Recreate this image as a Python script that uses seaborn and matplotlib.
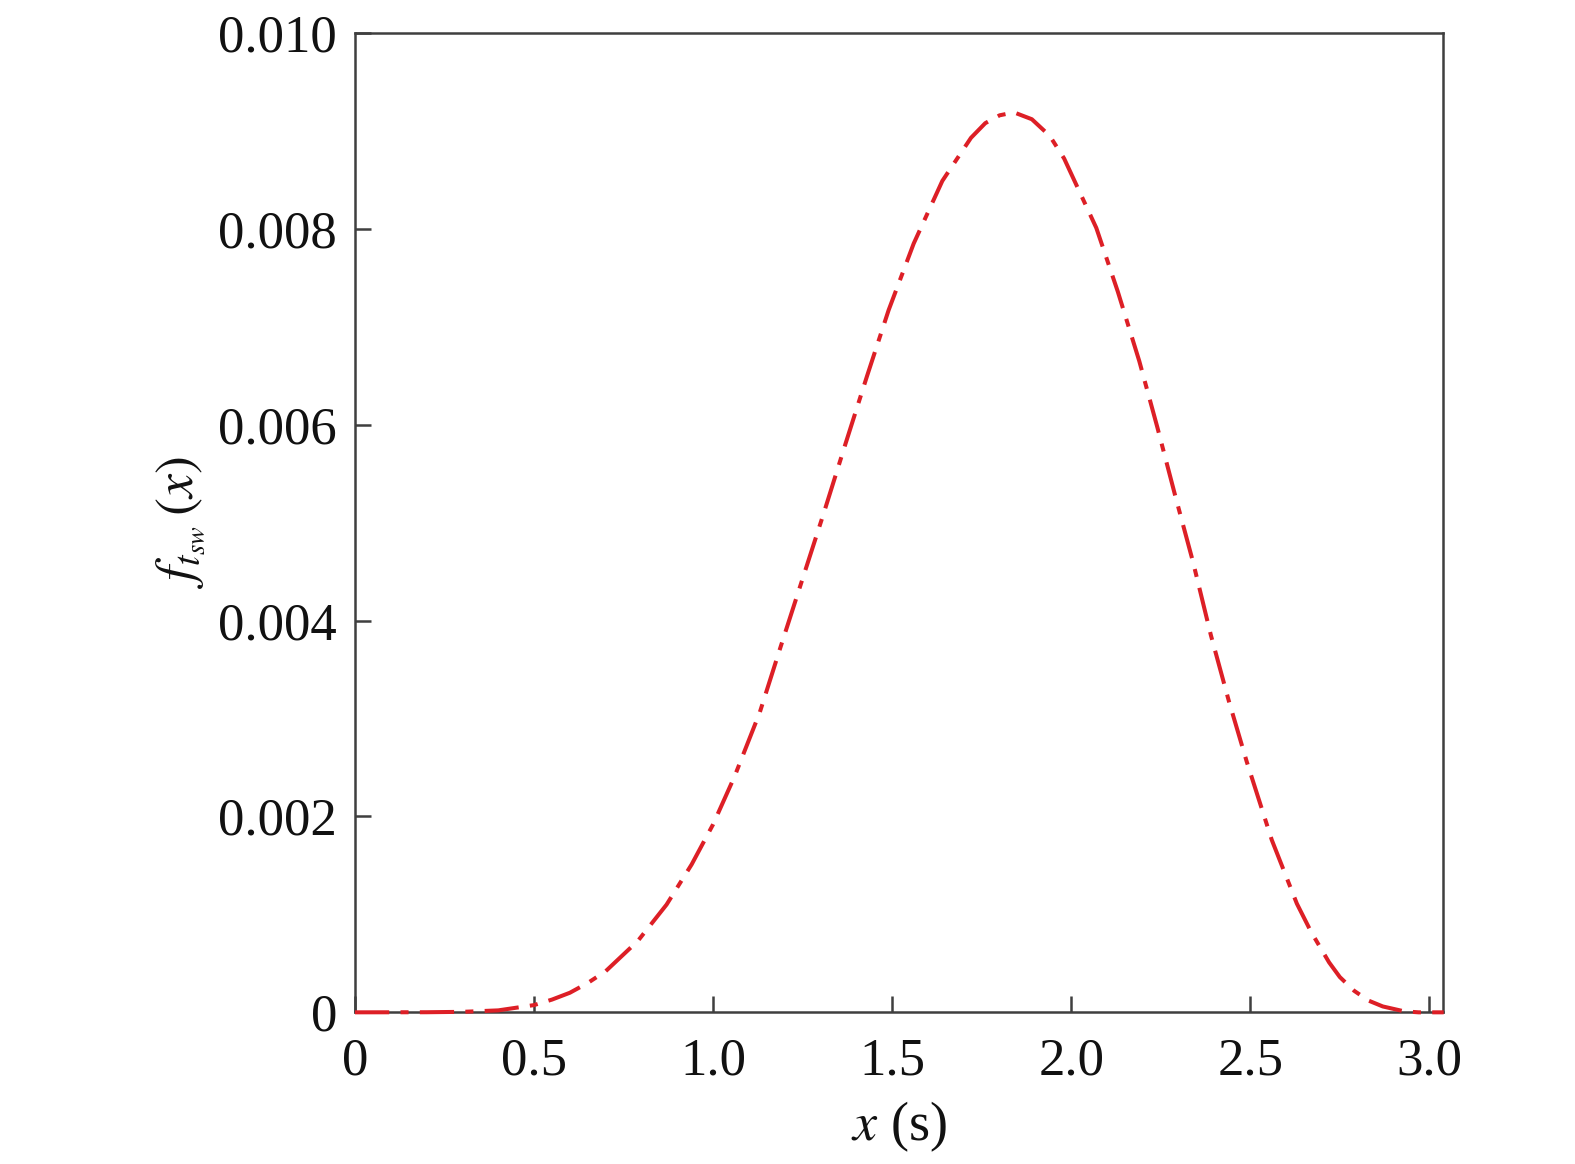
import matplotlib
matplotlib.use("Agg")
import matplotlib.pyplot as plt
import seaborn as sns
import pandas as pd

# values
x_vals = [0.00, 0.20, 0.30, 0.40, 0.50, 0.55, 0.60, 0.65, 0.70, 0.79, 0.87, 0.94,
          1.00, 1.06, 1.13, 1.19, 1.25, 1.31, 1.37, 1.43, 1.49, 1.56, 1.64, 1.72,
          1.76, 1.80, 1.84, 1.89, 1.94, 1.98, 2.07, 2.13, 2.19, 2.24, 2.29, 2.34,
          2.39, 2.44, 2.49, 2.56, 2.63, 2.67, 2.72, 2.75, 2.79, 2.83, 2.87, 2.93,
          2.97, 3.04]
f_vals = [0.0, 0.000001, 0.000005, 0.00002, 0.000074, 0.00013, 0.00020, 0.00030,
          0.00042, 0.00073, 0.00110, 0.00151, 0.00192, 0.00241, 0.00306, 0.00375,
          0.00443, 0.00511, 0.00581, 0.00650, 0.00717, 0.00785, 0.00849, 0.00893,
          0.00908, 0.00916, 0.00919, 0.00912, 0.00895, 0.00872, 0.00801, 0.00736,
          0.00665, 0.00598, 0.00528, 0.00460, 0.00385, 0.00318, 0.00256, 0.00176,
          0.00111, 0.00082, 0.00051, 0.00036, 0.00022, 0.00012, 0.00006, 0.00001,
          0.0, 0.0]

x_ticks = [0, 0.5, 1.0, 1.5, 2.0, 2.5, 3.0]
x_tick_labels = ["0", "0.5", "1.0", "1.5", "2.0", "2.5", "3.0"]
y_ticks = [0, 0.002, 0.004, 0.006, 0.008, 0.010]
y_tick_labels = ["0", "0.002", "0.004", "0.006", "0.008", "0.010"]

df = pd.DataFrame({"x": x_vals, "f": f_vals})

sns.set_theme(style="white")
plt.rcParams["font.family"] = ["Liberation Serif", "DejaVu Serif"]
plt.rcParams["mathtext.fontset"] = "stix"

axis_color = "#3f3f3f"
fig = plt.figure(figsize=(15.75, 11.64), dpi=100)
ax = fig.add_axes([0.2254, 0.1303, 0.9164 - 0.2254, 0.9716 - 0.1303])

sns.lineplot(data=df, x="x", y="f", ax=ax, color="#DD1F26", linewidth=2.9,
             linestyle=(0, (8.5, 2.8, 2.0, 2.8)), zorder=3, clip_on=False)

ax.set_xlim(0, 3.039)
ax.set_ylim(0, 0.010)
ax.set_xticks(x_ticks)
ax.set_xticklabels(x_tick_labels)
ax.set_yticks(y_ticks)
ax.set_yticklabels(y_tick_labels)

for side in ["left", "right", "top", "bottom"]:
    ax.spines[side].set_color(axis_color)
    ax.spines[side].set_linewidth(1.8)

ax.tick_params(axis="both", direction="in", length=11.5, width=1.8,
               color=axis_color, labelsize=38, labelcolor="#111111",
               bottom=True, left=True, top=False, right=False)
ax.tick_params(axis="x", pad=18)
ax.tick_params(axis="y", pad=13)

ax.set_xlabel(r"$x$ (s)", fontsize=39, color="#111111", labelpad=10)
ax.set_ylabel(r"$f_{t_{sw}}\,(x)$", fontsize=39, color="#111111", labelpad=8)

fig.savefig("out.png", dpi=100)
